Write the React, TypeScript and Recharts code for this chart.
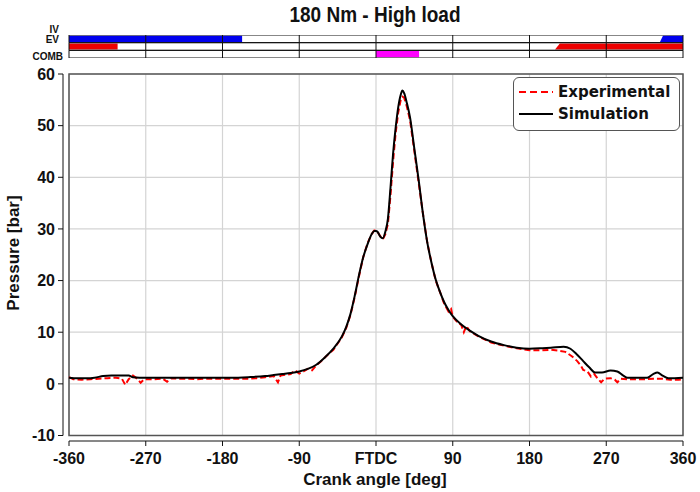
import React from 'react';
import {
  ComposedChart, LineChart, Line, Area, XAxis, YAxis, CartesianGrid,
  ReferenceArea, ReferenceLine,
} from 'recharts';

// ---------- data ----------
const SIM_ANGLE = [-360, -350, -340, -330, -320, -310, -300, -290, -285, -270, -250, -230, -210, -190, -170, -150, -130, -120, -110, -100, -90, -80, -70, -60, -50, -40, -35, -30, -25, -20, -15, -10, -5, -2, 0, 2, 5, 8, 11, 14, 17, 20, 23, 26, 29, 31, 33, 36, 40, 45, 50, 55, 60, 65, 70, 75, 80, 85, 90, 100, 110, 120, 135, 150, 165, 180, 195, 205, 220, 228, 235, 243, 250, 257, 265, 275, 283, 290, 295, 310, 318, 325, 330, 336, 343, 360];
const SIM_PRESSURE = [1.2, 1.1, 1.1, 1.2, 1.5, 1.6, 1.6, 1.6, 1.3, 1.2, 1.2, 1.2, 1.2, 1.2, 1.2, 1.3, 1.5, 1.7, 1.9, 2.1, 2.4, 2.9, 3.7, 5.1, 6.8, 9.2, 11.0, 13.5, 17.0, 21.0, 24.5, 27.0, 29.0, 29.6, 29.6, 29.4, 28.5, 28.2, 29.5, 32.0, 38.0, 44.5, 49.5, 53.5, 56.0, 56.8, 56.3, 54.5, 51.5, 45.5, 39.5, 33.0, 27.5, 23.5, 20.2, 17.8, 15.8, 14.3, 13.1, 11.5, 10.3, 9.3, 8.2, 7.5, 7.0, 6.8, 6.9, 7.0, 7.2, 6.8, 5.8, 4.4, 3.2, 2.2, 2.2, 2.6, 2.4, 1.6, 1.2, 1.2, 1.2, 1.9, 2.2, 1.6, 1.1, 1.2];

const EXP_ANGLE = [-360, -355, -345, -335, -325, -315, -305, -298, -294, -290, -285, -280, -276, -272, -260, -250, -245, -240, -230, -220, -210, -200, -190, -180, -170, -160, -150, -140, -130, -120, -115, -112, -100, -95, -90, -85, -80, -75, -70, -65, -60, -50, -40, -35, -30, -25, -20, -15, -10, -5, -2, 0, 2, 5, 8, 11, 14, 17, 20, 23, 26, 29, 31, 33, 36, 40, 45, 50, 55, 60, 65, 70, 75, 80, 85, 88, 90, 95, 100, 103, 106, 110, 120, 130, 135, 140, 150, 165, 180, 195, 205, 215, 222, 230, 236, 240, 243, 248, 252, 256, 260, 264, 268, 275, 280, 283, 287, 295, 305, 315, 325, 335, 345, 355, 360];
const EXP_PRESSURE = [1.3, 0.9, 0.8, 0.9, 1.0, 1.1, 1.2, 1.0, -0.2, 0.9, 1.6, 1.0, 0.2, 0.9, 0.9, 1.0, 0.4, 1.1, 1.0, 1.0, 0.9, 1.0, 1.0, 1.0, 1.0, 1.0, 1.0, 1.1, 1.3, 1.5, 0.3, 1.6, 1.9, 2.6, 2.0, 2.4, 2.9, 2.6, 3.6, 4.3, 5.1, 6.6, 9.0, 10.8, 13.3, 16.8, 20.8, 24.5, 27.2, 29.0, 29.7, 29.7, 29.4, 28.6, 28.0, 29.0, 31.0, 36.5, 43.0, 48.5, 52.5, 55.0, 55.6, 55.4, 53.8, 51.0, 45.0, 39.0, 33.0, 27.5, 23.5, 20.0, 17.8, 15.5, 14.0, 14.5, 13.0, 12.0, 11.4, 10.0, 11.2, 10.2, 9.2, 8.4, 8.0, 7.8, 7.4, 6.9, 6.5, 6.5, 6.6, 6.4, 6.2, 5.3, 4.4, 3.6, 2.7, 2.4, 1.4, 1.9, 1.0, 0.3, 1.0, 1.1, 0.8, 0.3, 1.0, 0.9, 0.9, 0.9, 1.0, 1.0, 0.8, 0.8, 0.9];

const X_TICKS = [-360, -270, -180, -90, 0, 90, 180, 270, 360];
const X_TICK_LABELS = ['-360', '-270', '-180', '-90', 'FTDC', '90', '180', '270', '360'];
const Y_TICKS = [-10, 0, 10, 20, 30, 40, 50, 60];

// valve / combustion events: [start deg, end deg, opening ramp deg]
const IV_OPEN = [[-360, -157, 0], [333, 360, 3.5]];
const EV_OPEN = [[-360, -303, 0], [210, 360, 5.5]];
const COMB_EVENT = [[0, 50.5, 0]];

const TITLE = '180 Nm - High load';
const X_TITLE = 'Crank angle [deg]';
const Y_TITLE = 'Pressure [bar]';
const SERIES_NAMES = ['Experimental', 'Simulation'];

// ---------- build tables ----------
const allAngles = Array.from(new Set([...SIM_ANGLE, ...EXP_ANGLE])).sort((a, b) => a - b);
const mainData = allAngles.map((x) => {
  const si = SIM_ANGLE.indexOf(x);
  const ei = EXP_ANGLE.indexOf(x);
  return { x, sim: si >= 0 ? SIM_PRESSURE[si] : null, exp: ei >= 0 ? EXP_PRESSURE[ei] : null };
});

function rangeData(r: number[], row: number) {
  const lo = row + 0.1;
  const hi = row + 0.9;
  const [a, b, ramp] = r;
  if (ramp > 0) {
    return [{ x: a, v: [lo, lo] }, { x: a + ramp, v: [lo, hi] }, { x: b, v: [lo, hi] }];
  }
  return [{ x: a, v: [lo, hi] }, { x: b, v: [lo, hi] }];
}

const FONT = '"Liberation Sans", Arial, sans-serif';

const XTick = (props: any) => {
  const { x, y, payload } = props;
  const i = X_TICKS.indexOf(payload.value);
  return (
    <text x={x} y={y} dy="0.71em" textAnchor="middle" fontFamily={FONT} fontWeight="bold" fontSize={16} fill="#111">
      {i >= 0 ? X_TICK_LABELS[i] : payload.value}
    </text>
  );
};

const YTick = (props: any) => {
  const { x, y, payload } = props;
  return (
    <text x={x} y={y} dy="0.36em" textAnchor="end" fontFamily={FONT} fontWeight="bold" fontSize={16} fill="#111">
      {payload.value}
    </text>
  );
};

const stripLabel: React.CSSProperties = {
  position: 'absolute', fontSize: 10, fontWeight: 'bold', color: '#111', textAlign: 'right', lineHeight: '10px',
};

export default function App() {
  const rows: [number[][], number, string][] = [
    [IV_OPEN, 2, '#0000ee'],
    [EV_OPEN, 1, '#ee0000'],
    [COMB_EVENT, 0, '#ff00ff'],
  ];
  return (
    <div style={{ position: 'absolute', left: 0, top: 0, width: 700, height: 492, background: '#fff', fontFamily: FONT }}>
      <div style={{ position: 'absolute', left: 0, width: 750, top: 4, textAlign: 'center', fontSize: 19, fontWeight: 'bold', color: '#111', transform: 'scaleY(1.12)' }}>
        {TITLE}
      </div>

      {/* valve strip labels */}
      <div style={{ ...stripLabel, right: 700 - 59, top: 25 }}>IV</div>
      <div style={{ ...stripLabel, right: 700 - 59, top: 35 }}>EV</div>
      <div style={{ ...stripLabel, right: 700 - 63, top: 52 }}>COMB</div>

      <div style={{ position: 'absolute', left: 0, top: 35 }}>
        <ComposedChart width={700} height={23} margin={{ top: 0, right: 17, bottom: 0, left: 69 }}>
          <XAxis type="number" dataKey="x" domain={[-360, 360]} hide allowDuplicatedCategory={false} />
          <YAxis type="number" domain={[0, 3]} hide />
          {rows.map(([ranges, row, color]) =>
            ranges.map((r, k) => (
              <Area
                key={`${row}-${k}`}
                data={rangeData(r, row)}
                dataKey="v"
                type="linear"
                stroke="none"
                fill={color}
                fillOpacity={1}
                isAnimationActive={false}
                dot={false}
                activeDot={false}
              />
            ))
          )}
          {[0, 1, 2].map((row) => (
            <ReferenceArea key={`row${row}`} x1={-360} x2={360} y1={row} y2={row + 1} fill="none" stroke="#111" strokeWidth={1} ifOverflow="visible" />
          ))}
          {X_TICKS.slice(1, -1).map((t) => (
            <ReferenceLine key={`d${t}`} x={t} stroke="#111" strokeWidth={1} />
          ))}
        </ComposedChart>
      </div>

      <div style={{ position: 'absolute', left: 0, top: 0 }}>
        <LineChart width={700} height={492} data={mainData} margin={{ top: 74, right: 17, bottom: 0, left: 0 }}>
          <CartesianGrid xAxisId="main" yAxisId="main" stroke="#d4d4d4" strokeWidth={1.2} horizontalValues={Y_TICKS} verticalValues={X_TICKS} />
          <XAxis xAxisId="gap" type="number" dataKey="x" domain={[-360, 360]} height={5.5} axisLine={false} tickLine={false} tick={false} />
          <XAxis
            xAxisId="main"
            type="number"
            dataKey="x"
            domain={[-360, 360]}
            ticks={X_TICKS}
            height={51}
            axisLine={{ stroke: '#111' }}
            tickLine={{ stroke: '#111' }}
            tickSize={5}
            tickMargin={7}
            tick={<XTick />}
            interval={0}
          />
          <YAxis yAxisId="gap" type="number" domain={[-10, 60]} width={6} axisLine={false} tickLine={false} tick={false} />
          <YAxis
            yAxisId="main"
            type="number"
            domain={[-10, 60]}
            ticks={Y_TICKS}
            width={63}
            axisLine={{ stroke: '#111' }}
            tickLine={{ stroke: '#111' }}
            tickSize={5}
            tickMargin={3}
            tick={<YTick />}
            interval={0}
          />
          <ReferenceArea xAxisId="main" yAxisId="main" x1={-360} x2={360} y1={-10} y2={60} fill="none" stroke="#555" strokeWidth={1.5} />
          <Line xAxisId="main" yAxisId="main" dataKey="exp" type="linear" stroke="#ff0000" strokeWidth={2} strokeDasharray="6 3" dot={false} connectNulls isAnimationActive={false} />
          <Line xAxisId="main" yAxisId="main" dataKey="sim" type="monotone" stroke="#000" strokeWidth={2} dot={false} connectNulls isAnimationActive={false} />
        </LineChart>
      </div>

      {/* legend */}
      <div style={{ position: 'absolute', left: 513, top: 77, width: 165, height: 52, border: '1.5px solid #555', borderRadius: 6, background: '#fff', fontFamily: '"DejaVu Sans", sans-serif', fontWeight: 'bold', fontSize: 15, color: '#111' }}>
        <div style={{ position: 'absolute', left: 4, top: 5, display: 'flex', alignItems: 'center', height: 18 }}>
          <svg width={36} height={6}><line x1={1} y1={3} x2={35} y2={3} stroke="#ff0000" strokeWidth={2} strokeDasharray="7 4" /></svg>
          <span style={{ marginLeft: 4 }}>{SERIES_NAMES[0]}</span>
        </div>
        <div style={{ position: 'absolute', left: 4, top: 27, display: 'flex', alignItems: 'center', height: 18 }}>
          <svg width={36} height={6}><line x1={1} y1={3} x2={35} y2={3} stroke="#000" strokeWidth={2} /></svg>
          <span style={{ marginLeft: 4 }}>{SERIES_NAMES[1]}</span>
        </div>
      </div>

      {/* axis titles */}
      <div style={{ position: 'absolute', left: 0, width: 750, top: 470, textAlign: 'center', fontSize: 17, fontWeight: 'bold', color: '#111' }}>
        {X_TITLE}
      </div>
      <div style={{ position: 'absolute', left: 14, top: 254, width: 0, height: 0 }}>
        <div style={{ position: 'absolute', left: -100, top: -11, width: 200, textAlign: 'center', fontSize: 17, fontWeight: 'bold', color: '#111', transform: 'rotate(-90deg)', whiteSpace: 'nowrap' }}>
          {Y_TITLE}
        </div>
      </div>
    </div>
  );
}
